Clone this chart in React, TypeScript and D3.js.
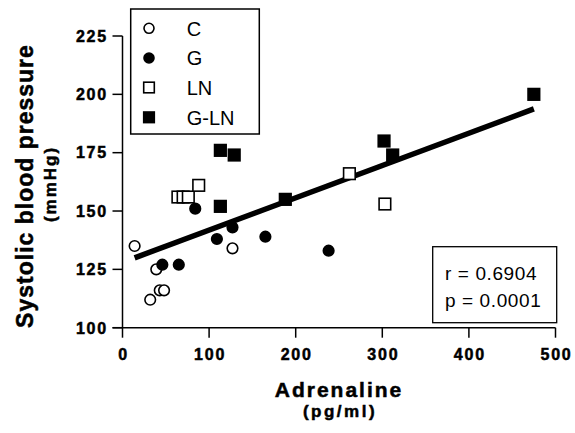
import React from "react";
import * as d3 from "d3";

const groups = ["C", "G", "LN", "G-LN"];
const cX = [14, 39, 43, 48, 32, 127];
const cY = [135, 125, 116, 116, 112, 134];
const gX = [84, 46, 65, 109, 127, 165, 238];
const gY = [151, 127, 127, 138, 143, 139, 133];
const lnX = [64, 70, 76, 88, 262, 303];
const lnY = [156, 156, 156, 161, 166, 153];
const glnX = [113, 129, 113, 188, 302, 312, 475];
const glnY = [176, 174, 152, 155, 180, 174, 200];
const xTicks = [0, 100, 200, 300, 400, 500];
const yTicks = [100, 125, 150, 175, 200, 225];
const regIntercept = 128.0;
const regSlope = 0.1384;
const statLines = ["r = 0.6904", "p = 0.0001"];

const FONT = "'Liberation Sans', Arial, Helvetica, sans-serif";

export default function App() {
  const x = d3.scaleLinear().domain([0, 500]).range([122.5, 555.5]);
  const y = d3.scaleLinear().domain([100, 225]).range([327.7, 36]);
  const allX = [...cX, ...gX, ...lnX, ...glnX];
  const x0 = d3.min(allX) as number;
  const x1 = d3.max(allX) as number;
  const line = d3
    .line<number>()
    .x((d) => x(d))
    .y((d) => y(regIntercept + regSlope * d));

  const circ = (xs: number[], ys: number[], filled: boolean, key: string) =>
    xs.map((v, i) => (
      <circle
        key={key + i}
        cx={x(v)}
        cy={y(ys[i])}
        r={5.3}
        fill={filled ? "#000" : "#fff"}
        stroke="#000"
        strokeWidth={1.6}
      />
    ));
  const sq = (xs: number[], ys: number[], filled: boolean, key: string) =>
    xs.map((v, i) => (
      <rect
        key={key + i}
        x={x(v) - 5.8}
        y={y(ys[i]) - 5.8}
        width={11.6}
        height={11.6}
        fill={filled ? "#000" : "#fff"}
        stroke="#000"
        strokeWidth={1.6}
      />
    ));

  const legendRowY = [28.3, 58, 87.5, 117.3];
  const heavy = { stroke: "#000", strokeWidth: 0.5 };

  return (
    <svg width={575} height={433} style={{ position: "absolute", left: 0, top: 0, background: "#fff" }}>
      <rect x={0} y={0} width={575} height={433} fill="#fff" />
      {/* axes */}
      <line x1={x(0)} x2={x(0)} y1={y(225)} y2={y(100)} stroke="#000" strokeWidth={1.5} />
      <line x1={x(0) - 10} x2={x(500)} y1={y(100)} y2={y(100)} stroke="#000" strokeWidth={1.5} />
      {yTicks.map((t) => (
        <g key={"yt" + t}>
          <line x1={x(0) - 10} x2={x(0)} y1={y(t)} y2={y(t)} stroke="#000" strokeWidth={1.5} />
          <text
            x={108}
            y={y(t) + 5.8}
            textAnchor="end"
            fontFamily={FONT}
            fontWeight="bold"
            fontSize={16}
            letterSpacing={1.8}
            {...heavy}
          >
            {t}
          </text>
        </g>
      ))}
      {xTicks.map((t) => (
        <g key={"xt" + t}>
          <line x1={x(t)} x2={x(t)} y1={y(100)} y2={y(100) + 10} stroke="#000" strokeWidth={1.5} />
          <text
            x={x(t) + 1}
            y={360}
            textAnchor="middle"
            fontFamily={FONT}
            fontWeight="bold"
            fontSize={16}
            letterSpacing={1.8}
            {...heavy}
          >
            {t}
          </text>
        </g>
      ))}
      {/* axis titles */}
      <text
        transform="translate(33,186) rotate(-90)"
        textAnchor="middle"
        fontFamily={FONT}
        fontWeight="bold"
        fontSize={23}
        letterSpacing={1}
        {...heavy}
      >
        Systolic blood pressure
      </text>
      <text
        transform="translate(55.5,184) rotate(-90)"
        textAnchor="middle"
        fontFamily={FONT}
        fontWeight="bold"
        fontSize={17}
        letterSpacing={2}
        {...heavy}
      >
        (mmHg)
      </text>
      <text
        x={339}
        y={397}
        textAnchor="middle"
        fontFamily={FONT}
        fontWeight="bold"
        fontSize={21}
        letterSpacing={2}
        {...heavy}
      >
        Adrenaline
      </text>
      <text
        x={340}
        y={417}
        textAnchor="middle"
        fontFamily={FONT}
        fontWeight="bold"
        fontSize={17}
        letterSpacing={2.5}
        {...heavy}
      >
        (pg/ml)
      </text>
      {/* regression line */}
      <path d={line([x0, x1]) as string} stroke="#000" strokeWidth={5.5} fill="none" />
      {/* points */}
      {circ(cX, cY, false, "c")}
      {circ(gX, gY, true, "g")}
      {sq(lnX, lnY, false, "ln")}
      {sq(glnX, glnY, true, "gln")}
      {/* legend */}
      <rect x={130.7} y={9} width={128.6} height={125} fill="#fff" stroke="#000" strokeWidth={1.5} />
      {groups.map((g, i) => {
        const cy = legendRowY[i];
        const filled = i % 2 === 1;
        const isSq = i >= 2;
        return (
          <g key={"lg" + g}>
            {isSq ? (
              <rect
                x={149 - 5.3}
                y={cy - 5.3}
                width={10.6}
                height={10.6}
                fill={filled ? "#000" : "#fff"}
                stroke="#000"
                strokeWidth={1.6}
              />
            ) : (
              <circle cx={149} cy={cy} r={5} fill={filled ? "#000" : "#fff"} stroke="#000" strokeWidth={1.6} />
            )}
            <text x={186.7} y={cy + 7.3} fontFamily={FONT} fontSize={20}>
              {g}
            </text>
          </g>
        );
      })}
      {/* stats box */}
      <rect x={432.7} y={246.7} width={124} height={76} fill="#fff" stroke="#000" strokeWidth={1.3} />
      {statLines.map((s, i) => (
        <text key={"st" + i} x={445} y={280 + i * 26.5} fontFamily={FONT} fontSize={19} letterSpacing={0.6}>
          {s}
        </text>
      ))}
    </svg>
  );
}
